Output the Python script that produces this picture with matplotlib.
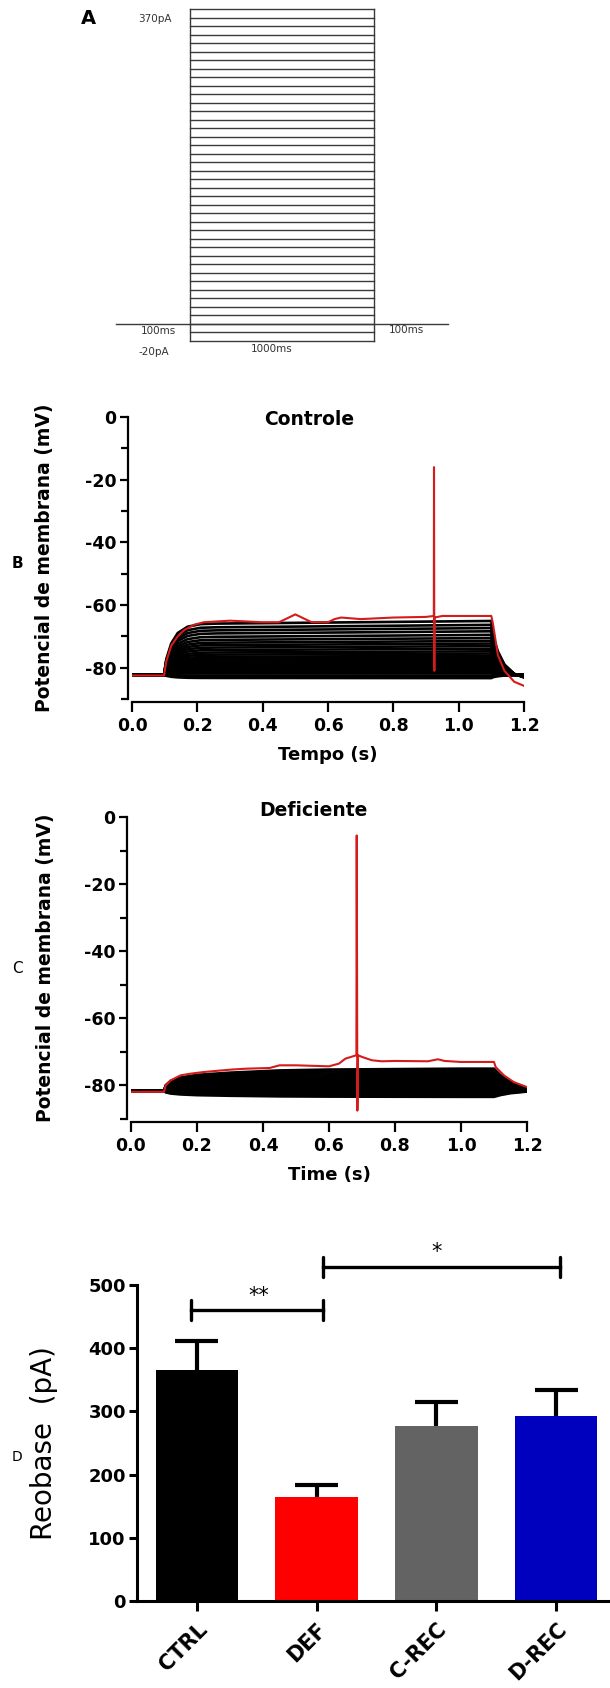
import numpy as np
import matplotlib.pyplot as plt

plt.rcParams['font.family'] = 'DejaVu Sans'
plt.rcParams['axes.unicode_minus'] = False

# ---------- A: protocolo de injecao de corrente ----------
passos_pA = np.arange(-20, 371, 10)      # 40 degraus de -20 a 370 pA
inicio_passo, fim_passo = 0, 1000        # ms
linha_base = (-400, 1400)                # trechos de 100 ms desenhados fora de escala

# ---------- B: Controle ----------
repouso_B = -82.3
t_modelo_B = [0, 0.098, 0.105, 0.12, 0.14, 0.17, 0.21, 0.26, 0.6, 1.10, 1.105, 1.12, 1.14, 1.17, 1.20]
frac_B = [0, 0, 0.3, 0.6, 0.8, 0.92, 0.97, 0.98, 1.0, 1.03, 0.75, 0.45, 0.2, 0.02, -0.05]
platos_B = [-65.6, -66.8, -67.8, -68.8, -69.9, -70.9, -71.8, -72.6, -73.4, -74.2, -75.0,
            -75.7, -76.4, -77.0, -77.6, -78.2, -78.8, -79.3, -79.8, -80.3, -80.8,
            -81.3, -81.8, -82.3, -82.8, -83.3]
t_red_B = [0, 0.098, 0.105, 0.12, 0.14, 0.16, 0.19, 0.22, 0.30, 0.40, 0.45, 0.48, 0.50, 0.52,
           0.55, 0.60, 0.62, 0.64, 0.70, 0.80, 0.90, 0.924, 0.9245, 0.9255, 0.926, 0.95, 1.0,
           1.10, 1.105, 1.12, 1.14, 1.17, 1.20]
v_red_B = [-82.5, -82.5, -78, -73, -70, -68, -66.3, -65.5, -65, -65.5, -65.5, -64, -63, -64,
           -65.5, -65.5, -64.5, -64, -64.5, -64, -63.8, -63.5, -16, -81, -64, -63.5, -63.5,
           -63.5, -66, -76, -81, -84.5, -85.8]

# ---------- C: Deficiente ----------
repouso_C = -81.6
t_modelo_C = [0, 0.10, 0.105, 0.12, 0.15, 0.20, 0.30, 0.45, 0.60, 1.0, 1.10, 1.12, 1.15, 1.20]
frac_C = [0, 0, 0.25, 0.45, 0.6, 0.72, 0.82, 0.92, 0.96, 1.0, 1.0, 0.7, 0.4, 0.12]
platos_C = [-75.0, -75.6, -76.2, -76.8, -77.4, -77.9, -78.4, -78.9, -79.4, -79.9,
            -80.4, -80.9, -81.4, -81.9, -82.4, -82.9, -83.4]
t_red_C = [0, 0.10, 0.105, 0.12, 0.15, 0.18, 0.22, 0.30, 0.35, 0.42, 0.45, 0.50, 0.60, 0.63,
           0.65, 0.683, 0.684, 0.686, 0.688, 0.70, 0.73, 0.76, 0.80, 0.90, 0.93, 0.95, 1.0,
           1.10, 1.105, 1.13, 1.16, 1.20]
v_red_C = [-81.9, -81.9, -80, -78.5, -77, -76.5, -76, -75.3, -75, -74.8, -74, -74, -74.3,
           -73.5, -72, -71, -5.5, -87.5, -71, -71.5, -72.5, -72.8, -72.7, -72.8, -72.2, -72.7,
           -73, -73, -74.5, -77, -79, -80.5]

xt_tr = [0.0, 0.2, 0.4, 0.6, 0.8, 1.0, 1.2]
yt_tr = [0, -20, -40, -60, -80]
yt_tr_min = [-10, -30, -50, -70, -90]

# ---------- D: Reobase ----------
grupos = ['CTRL', 'DEF', 'C-REC', 'D-REC']
reobase = [365, 165, 277, 292]
epm = [47, 19, 38, 42]
cores = ['#000000', '#ff0000', '#636363', '#0000bf']
yt_D = [0, 100, 200, 300, 400, 500]

W, H = 610, 1688
fig = plt.figure(figsize=(W / 100, H / 100), dpi=100)


def caixa(l, t, r, b):
    return [l / W, 1 - b / H, (r - l) / W, (b - t) / H]


# ----- A -----
axA = fig.add_axes(caixa(116.4, 9, 447.6, 341))
cinza = '#3a3a3a'
for p in passos_pA:
    axA.plot([inicio_passo, fim_passo], [p, p], color=cinza, lw=1.0, clip_on=False)
for x in (inicio_passo, fim_passo):
    axA.plot([x, x], [passos_pA[0], passos_pA[-1]], color=cinza, lw=1.0, clip_on=False)
axA.plot(linha_base, [0, 0], color=cinza, lw=1.0, clip_on=False)
axA.set_xlim(*linha_base)
axA.set_ylim(passos_pA[0], passos_pA[-1])
axA.axis('off')
fA = dict(fontsize=7.5, color='#333333')
axA.text(-98, 358, '370pA', ha='right', va='center', **fA)
axA.text(-174, -8.4, '100ms', ha='center', va='center', **fA)
axA.text(-196, -33, '-20pA', ha='center', va='center', **fA)
axA.text(446, -29.5, '1000ms', ha='center', va='center', **fA)
axA.text(1174, -7, '100ms', ha='center', va='center', **fA)
fig.text(88 / W, 1 - 19 / H, 'A', ha='center', va='center', fontsize=14, fontweight='bold')


def eixo_traco(ax, xlabel, title, tx, ty, labx):
    for s in ['top', 'right']:
        ax.spines[s].set_visible(False)
    ax.spines['left'].set_position(('outward', 3))
    ax.spines['bottom'].set_position(('outward', 2))
    for s in ['left', 'bottom']:
        ax.spines[s].set_linewidth(1.6)
    ax.set_xlim(0, 1.2)
    ax.set_ylim(-90, 0)
    ax.set_xticks(xt_tr)
    ax.set_xticklabels([f'{v:.1f}' for v in xt_tr])
    ax.set_yticks(yt_tr)
    ax.set_yticks(yt_tr_min, minor=True)
    ax.tick_params(axis='x', length=7, width=1.6, pad=4, labelsize=12.5)
    ax.tick_params(axis='y', which='major', length=6, width=1.6, pad=2, labelsize=12.5)
    ax.tick_params(axis='y', which='minor', length=5, width=1.6)
    for lab in ax.get_xticklabels() + ax.get_yticklabels():
        lab.set_fontweight('bold')
    ax.set_xlabel(xlabel, fontsize=13, fontweight='bold', labelpad=8)
    ax.set_ylabel('Potencial de membrana (mV)', fontsize=13.5, fontweight='bold', va='center')
    ax.yaxis.set_label_coords(labx, 0.5)
    ax.text(tx, ty, title, transform=ax.transAxes, ha='center', va='center',
            fontsize=13.5, fontweight='bold')


# ----- B -----
axB = fig.add_axes(caixa(132, 417, 524, 699))
for p in platos_B:
    v = [repouso_B + f * (p - repouso_B) for f in frac_B]
    axB.plot(t_modelo_B, v, color='black', lw=1.9)
axB.plot(t_red_B, v_red_B, color='#d41c1c', lw=1.5, zorder=5)
eixo_traco(axB, 'Tempo (s)', 'Controle', 0.452, 0.99, -0.222)
fig.text(17 / W, 1 - 564 / H, 'B', ha='center', va='center', fontsize=11, fontweight='bold')

# ----- C -----
axC = fig.add_axes(caixa(131, 817, 527, 1119))
for p in platos_C:
    v = [repouso_C + f * (p - repouso_C) for f in frac_C]
    axC.plot(t_modelo_C, v, color='black', lw=1.9)
axC.plot(t_red_C, v_red_C, color='#d41c1c', lw=1.5, zorder=5)
eixo_traco(axC, 'Time (s)', 'Deficiente', 0.46, 1.02, -0.217)
fig.text(17 / W, 1 - 968 / H, 'C', ha='center', va='center', fontsize=11)

# ----- D -----
axD = fig.add_axes(caixa(137, 1285, 610, 1601))
xD = np.arange(len(grupos))
axD.bar(xD, reobase, width=0.69, color=cores, linewidth=0, zorder=2)
topo = [r + e for r, e in zip(reobase, epm)]
axD.vlines(xD, reobase, topo, color='black', lw=3, zorder=1)
axD.hlines(topo, xD - 0.18, xD + 0.18, color='black', lw=3, zorder=1)
axD.set_xlim(-0.5, 3.45)
axD.set_ylim(0, 500)
axD.set_yticks(yt_D)
axD.set_xticks(xD)
axD.set_xticklabels(grupos, rotation=45, ha='right', rotation_mode='anchor')
for s in ['top', 'right']:
    axD.spines[s].set_visible(False)
for s in ['left', 'bottom']:
    axD.spines[s].set_linewidth(2.2)
axD.tick_params(axis='y', length=6, width=2.2, pad=2, labelsize=13)
axD.tick_params(axis='x', length=7, width=2.2, pad=6, labelsize=15)
for lab in axD.get_xticklabels() + axD.get_yticklabels():
    lab.set_fontweight('bold')
axD.set_ylabel('Reobase  (pA)', fontsize=20, va='center')
axD.yaxis.set_label_coords(-0.197, 0.5)


def colchete(ax, x1, x2, y, txt, ty, tx):
    ax.plot([x1, x2], [y, y], color='black', lw=2.4, clip_on=False)
    for x in (x1, x2):
        ax.plot([x, x], [y - 16, y + 16], color='black', lw=2.4, clip_on=False,
                solid_capstyle='round')
    ax.text(tx, ty, txt, ha='center', va='center', fontsize=15, clip_on=False)


colchete(axD, -0.05, 1.05, 460, '**', 483, 0.52)
colchete(axD, 1.05, 3.03, 528, '*', 553, 2.0)
fig.text(17 / W, 1 - 1457 / H, 'D', ha='center', va='center', fontsize=10)

fig.savefig('out.png', dpi=100)
